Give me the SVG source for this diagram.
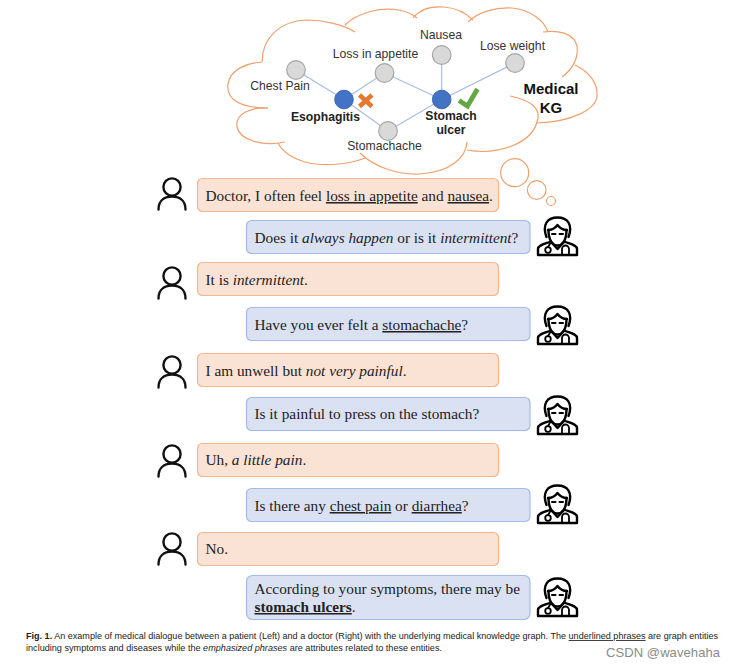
<svg xmlns="http://www.w3.org/2000/svg" xmlns:xlink="http://www.w3.org/1999/xlink" width="733" height="668" viewBox="0 0 733 668">
<style>
.cloud{fill:none;stroke:#f0a06c;stroke-width:1.2}
.edge{fill:none;stroke:#a9bde3;stroke-width:1.2}
.gray{fill:#d9d9d9;stroke:#a6a6a6;stroke-width:1.2}
.blue{fill:#4472c4;stroke:#3f69b5;stroke-width:1}
.kg{font-family:"Liberation Sans",Arial,sans-serif;font-size:12.2px;fill:#333;text-anchor:middle}
.kgb{font-family:"Liberation Sans",Arial,sans-serif;font-size:12.2px;font-weight:bold;fill:#222;text-anchor:middle}
.pat{fill:#fae3d5;stroke:#f3b78e;stroke-width:1.2}
.doc{fill:#dae1f3;stroke:#a3bce6;stroke-width:1.2}
.t{font-family:"Liberation Serif","Times New Roman",serif;font-size:15.3px;fill:#222}
.u{text-decoration:underline}
.i{font-style:italic}
.cap{font-family:"Liberation Sans",Arial,sans-serif;font-size:8.6px;fill:#222}
.ic{fill:none;stroke:#000;stroke-width:2.4;stroke-linecap:round;stroke-linejoin:round}
</style>
<defs>
<g id="person"><circle cx="172" cy="187" r="8.6" fill="none" stroke="#111" stroke-width="2.4"/><path d="M158.500 209.500C158.500 201 164 196.500 172 196.500C180 196.500 185.500 201 185.500 209.500" fill="none" stroke="#111" stroke-width="2.4" stroke-linecap="round"/></g>
<g id="doctor" class="ic">
<path d="M9.500 21C5 9 10 1.500 20.500 1.500C31 1.500 36 9 31.500 21"/>
<path d="M11.500 14C11.500 25 16 29.500 20.500 29.500C25 29.500 29.500 25 29.500 14"/>
<path d="M11 14C16 14 19 11 20.500 9C22 11 25 14 30 14"/>
<path d="M15 18H18.500M22.500 18H26" stroke-width="2"/>
<path d="M1 39V33C1 29 8 28 14 25.500M40 39V33C40 29 33 28 27 25.500M1 39H40"/>
<path d="M14 26L20.500 33L27 26"/>
<circle cx="11" cy="34" r="2.800" stroke-width="1.800"/>
<path d="M11 31L14 26M25 38V33A3.500 3.500 0 0 1 32 33V38" stroke-width="1.800"/>
</g>
</defs>
<rect width="733" height="668" fill="#fff"/>
<g id="kg-cloud">
<path class="cloud" d="M268 108C238 108 226 98 228 84C230 70 246 63 262 62"/>
<path class="cloud" d="M262 62C262 38 280 21 306 20C324 20 344 25 355 32"/>
<path class="cloud" d="M345 25C358 12 382 7 398 10C406 11 412 14 417 18"/>
<path class="cloud" d="M413 18C420 9 432 6 444 7C456 8 466 13 473 20"/>
<path class="cloud" d="M468 22C478 12 496 7 512 8C530 10 544 20 548 32"/>
<path class="cloud" d="M543 32C558 30 574 33 577 46C579 58 572 70 562 77"/>
<path class="cloud" d="M575 65C590 72 598 84 597 96C596 110 570 122 537 123"/>
<path class="cloud" d="M510 96C530 100 542 108 537 122C532 142 500 156 467 150"/>
<path class="cloud" d="M467 142C466 158 450 172 420 174C400 175 375 168 360 153"/>
<path class="cloud" d="M365 158C345 166 320 166 305 162C292 158 282 151 278 143"/>
<path class="cloud" d="M285 142C262 147 240 140 237 127C235 114 250 107 268 108"/>
<circle class="cloud" cx="514.700" cy="172.700" r="14"/>
<circle class="cloud" cx="536.700" cy="190" r="9.300"/>
<circle class="cloud" cx="551" cy="201" r="4.500"/>
</g>
<g id="connectors">
<path class="edge" d="M296 70L344 99.500"/>
<path class="edge" d="M384.500 73L344 99.500"/>
<path class="edge" d="M344 99.500L388 131"/>
<path class="edge" d="M384.500 73L441.700 99.500"/>
<path class="edge" d="M441.700 55V99.500"/>
<path class="edge" d="M515 63L441.700 99.500"/>
<path class="edge" d="M388 131L441.700 99.500"/>
</g>
<g id="node-chest-pain"><circle class="gray" cx="296" cy="70" r="9.300"/><text class="kg" x="280" y="90">Chest Pain</text></g>
<g id="node-loss-in-appetite"><circle class="gray" cx="384.500" cy="73" r="9.300"/><text class="kg" x="375.500" y="58">Loss in appetite</text></g>
<g id="node-nausea"><circle class="gray" cx="441.700" cy="55" r="9.300"/><text class="kg" x="441" y="39">Nausea</text></g>
<g id="node-lose-weight"><circle class="gray" cx="515" cy="63" r="9.300"/><text class="kg" x="512.500" y="50">Lose weight</text></g>
<g id="node-stomachache"><circle class="gray" cx="388" cy="131" r="9.300"/><text class="kg" x="384.500" y="150">Stomachache</text></g>
<g id="node-esophagitis"><circle class="blue" cx="344" cy="99.500" r="9.300"/><path d="M359.500 95L372 106.500M372 95L359.500 106.500" stroke="#e5792f" stroke-width="4.500" fill="none"/><text class="kgb" x="325.500" y="121">Esophagitis</text></g>
<g id="node-stomach-ulcer"><circle class="blue" cx="441.700" cy="99.500" r="9.300"/><path d="M459 100.500L467.500 106L477.500 89" stroke="#62a744" stroke-width="4.800" fill="none"/><text class="kgb" x="451" y="120">Stomach</text><text class="kgb" x="451" y="134">ulcer</text></g>
<g id="node-medical-kg"><text x="551" y="94" font-family="Liberation Sans,Arial,sans-serif" font-size="15" font-weight="bold" fill="#111" text-anchor="middle">Medical</text><text x="551" y="113" font-family="Liberation Sans,Arial,sans-serif" font-size="15" font-weight="bold" fill="#111" text-anchor="middle">KG</text></g>

<g id="msg-1"><use xlink:href="#person" href="#person"/><rect class="pat" x="197.500" y="178.500" width="301" height="33" rx="5"/><text class="t" x="205.500" y="201">Doctor, I often feel <tspan class="u">loss in appetite</tspan> and <tspan class="u">nausea</tspan>.</text></g>
<g id="msg-2"><rect class="doc" x="246.500" y="220.500" width="283.500" height="33" rx="5"/><text class="t" x="254.500" y="243">Does it <tspan class="i">always happen</tspan> or is it <tspan class="i">intermittent</tspan>?</text><use href="#doctor" x="537" y="216"/></g>
<g id="msg-3"><use href="#person" y="89"/><rect class="pat" x="197.500" y="262.500" width="301" height="33" rx="5"/><text class="t" x="205.500" y="285">It is <tspan class="i">intermittent</tspan>.</text></g>
<g id="msg-4"><rect class="doc" x="246.500" y="307.500" width="283.500" height="33" rx="5"/><text class="t" x="254.500" y="330">Have you ever felt a <tspan class="u">stomachache</tspan>?</text><use href="#doctor" x="537" y="305"/></g>
<g id="msg-5"><use href="#person" y="178"/><rect class="pat" x="197.500" y="353.500" width="301" height="33" rx="5"/><text class="t" x="205.500" y="376">I am unwell but <tspan class="i">not very painful</tspan>.</text></g>
<g id="msg-6"><rect class="doc" x="246.500" y="397.500" width="283.500" height="33" rx="5"/><text class="t" x="254.500" y="419">Is it painful to press on the stomach?</text><use href="#doctor" x="537" y="395"/></g>
<g id="msg-7"><use href="#person" y="267"/><rect class="pat" x="197.500" y="443.500" width="301" height="33" rx="5"/><text class="t" x="205.500" y="465">Uh, <tspan class="i">a little pain</tspan>.</text></g>
<g id="msg-8"><rect class="doc" x="246.500" y="488.500" width="283.500" height="33" rx="5"/><text class="t" x="254.500" y="511">Is there any <tspan class="u">chest pain</tspan> or <tspan class="u">diarrhea</tspan>?</text><use href="#doctor" x="537" y="484"/></g>
<g id="msg-9"><use href="#person" y="355"/><rect class="pat" x="197.500" y="532.500" width="301" height="33" rx="5"/><text class="t" x="205.500" y="554">No.</text></g>
<g id="msg-10"><rect class="doc" x="246.500" y="575.500" width="283.500" height="44" rx="6"/><text class="t" x="254.500" y="594">According to your symptoms, there may be</text><text class="t" x="254.500" y="612"><tspan class="u" font-weight="bold">stomach ulcers</tspan>.</text><use href="#doctor" x="537" y="577"/></g>

<text class="cap" x="26" y="639" textLength="692" lengthAdjust="spacingAndGlyphs"><tspan font-weight="bold">Fig. 1.</tspan> An example of medical dialogue between a patient (Left) and a doctor (Right) with the underlying medical knowledge graph. The <tspan class="u">underlined phrases</tspan> are graph entities</text>
<text class="cap" x="26" y="651" textLength="416" lengthAdjust="spacingAndGlyphs">including symptoms and diseases while the <tspan class="i">emphasized phrases</tspan> are attributes related to these entities.</text>
<text x="606" y="657" font-family="Liberation Sans,Arial,sans-serif" font-size="13px" fill="#8a8a8a" textLength="114">CSDN @wavehaha</text>
</svg>
